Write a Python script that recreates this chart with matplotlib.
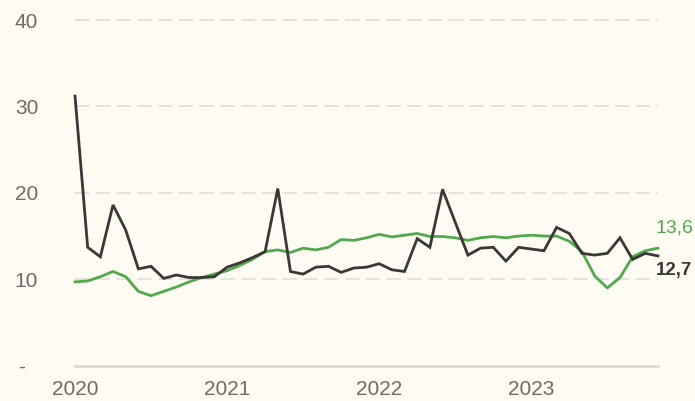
import matplotlib
matplotlib.use("Agg")
import matplotlib.pyplot as plt
from matplotlib.transforms import ScaledTranslation
import numpy as np

plt.rcParams['font.family'] = ['Liberation Sans', 'DejaVu Sans']

# Monthly series, Jan 2020 - Nov 2023
months = np.arange(47)
dark_series = [31.2, 13.7, 12.6, 18.6, 15.7, 11.2, 11.5, 10.1, 10.5, 10.2, 10.2, 10.3,
               11.4, 11.9, 12.5, 13.2, 20.5, 10.9, 10.6, 11.4, 11.5, 10.8, 11.3, 11.4,
               11.8, 11.1, 10.9, 14.7, 13.7, 20.4, 16.6, 12.8, 13.6, 13.7, 12.1, 13.7,
               13.5, 13.3, 16.0, 15.3, 13.0, 12.8, 13.0, 14.8, 12.3, 13.0, 12.7]
green_series = [9.7, 9.8, 10.3, 10.9, 10.3, 8.6, 8.1, 8.6, 9.1, 9.7, 10.2, 10.6,
                11.0, 11.6, 12.3, 13.2, 13.4, 13.1, 13.6, 13.4, 13.7, 14.6, 14.5, 14.8,
                15.2, 14.9, 15.1, 15.3, 14.95, 14.95, 14.8, 14.5, 14.8, 14.95, 14.8, 15.0,
                15.1, 15.0, 15.0, 14.4, 13.2, 10.4, 9.0, 10.2, 12.6, 13.3, 13.6]

y_ticks = [0, 10, 20, 30, 40]
y_tick_labels = ['-', '10', '20', '30', '40']
year_positions = [0, 12, 24, 36]
year_labels = ['2020', '2021', '2022', '2023']

bg = '#fefbf3'
dark = '#3a3835'
green = '#52a84d'
grey_text = '#6e6a66'

W, H = 695, 401
fig = plt.figure(figsize=(W / 100, H / 100), dpi=100, facecolor=bg)
left, right = 75 / W, 658 / W
bottom, top = 1 - 365.7 / H, 1 - 20 / H
ax = fig.add_axes([left, bottom, right - left, top - bottom], facecolor=bg)

ax.set_xlim(0, 46)
ax.set_ylim(0, 40)

# Dashed horizontal grid
for v in y_ticks[1:]:
    ax.axhline(v, color='#e3e0da', lw=1.3, dashes=(8, 3.5), zorder=1, clip_on=False)
ax.axhline(0, color='#d9d7d3', lw=1.8, zorder=1, clip_on=False)

ax.plot(months, green_series, color=green, lw=2.0, zorder=3, clip_on=False,
        solid_joinstyle='round')
ax.plot(months, dark_series, color=dark, lw=2.0, zorder=4, clip_on=False,
        solid_joinstyle='miter')

for s in ax.spines.values():
    s.set_visible(False)

ax.set_yticks(y_ticks)
ax.set_yticklabels(y_tick_labels)
ax.set_xticks(year_positions)
ax.set_xticklabels(year_labels)
ax.tick_params(axis='y', length=0, pad=26.5, labelsize=15, labelcolor=grey_text)
ax.tick_params(axis='x', length=0, pad=10, labelsize=15, labelcolor=grey_text)

# the zero marker sits a little further left than the numeric labels
zero_label = ax.get_yticklabels()[0]
zero_label.set_transform(zero_label.get_transform() +
                         ScaledTranslation(-0.13, 0, fig.dpi_scale_trans))

# End-of-series value labels
ax.annotate(f"{green_series[-1]:.1f}".replace('.', ','), xy=(months[-1], green_series[-1]),
            xytext=(-1.5, 14.5), textcoords='offset points', color=green, fontsize=14,
            ha='left', va='center', annotation_clip=False)
ax.annotate(f"{dark_series[-1]:.1f}".replace('.', ','), xy=(months[-1], dark_series[-1]),
            xytext=(-1.5, -10.5), textcoords='offset points', color=dark, fontsize=13.5,
            ha='left', va='center', annotation_clip=False, fontweight='bold')

fig.savefig('out.png', dpi=100, facecolor=bg)
